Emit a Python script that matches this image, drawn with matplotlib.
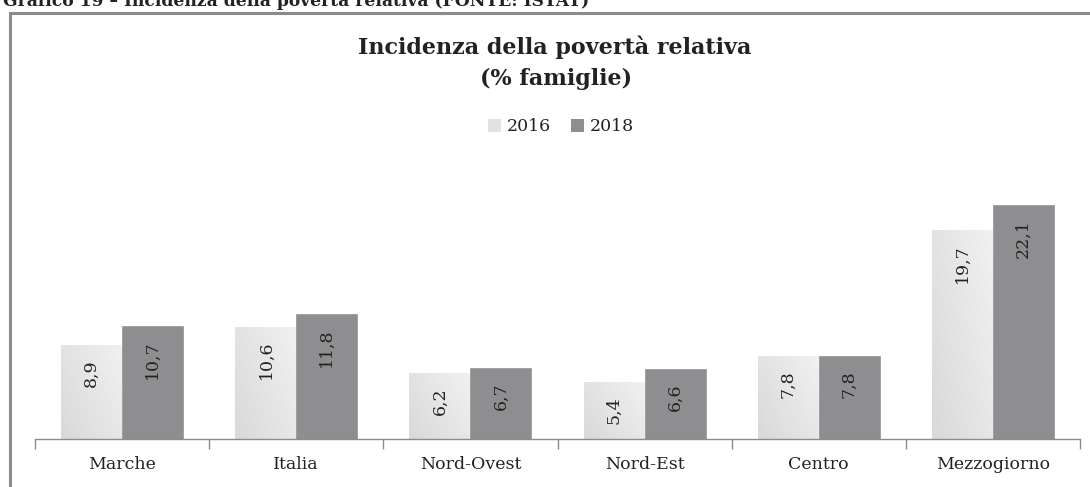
import matplotlib
matplotlib.use("Agg")
import matplotlib.pyplot as plt
from matplotlib.patches import Rectangle, Patch
from matplotlib.colors import LinearSegmentedColormap
import numpy as np

categories = ["Marche", "Italia", "Nord-Ovest", "Nord-Est", "Centro", "Mezzogiorno"]
series_names = ["2016", "2018"]
values_2016 = [8.9, 10.6, 6.2, 5.4, 7.8, 19.7]
values_2018 = [10.7, 11.8, 6.7, 6.6, 7.8, 22.1]

FONT = ["DejaVu Serif"]
c16 = "#e2e2e3"
c18 = "#8e8e91"
txt = "#222222"

W, H = 1090, 487
fig = plt.figure(figsize=(W / 100, H / 100), dpi=100)
fig.patch.set_facecolor("white")

# outer frame
fig.patches.append(Rectangle((10 / W, -0.1), 1.2, (H - 13) / H + 0.1, transform=fig.transFigure,
                             fill=False, edgecolor="#8a8a8a", linewidth=2.2))
# caption (cut at the top edge, as in the source)
fig.text(3 / W, 1 - 1 / H, "Grafico 19 – Incidenza della povertà relativa (FONTE: ISTAT)",
         fontsize=12.3, fontweight="bold", family=FONT, color=txt, va="center", ha="left")

ax = fig.add_axes([35 / W, 1 - 439 / H, 1045 / W, 265 / H])
x = np.arange(len(categories))
bw = 0.35
b1 = ax.bar(x - bw / 2, values_2016, bw, color=c16, edgecolor="#f2f2f2", linewidth=0.6,
            label=series_names[0], zorder=2)
b2 = ax.bar(x + bw / 2, values_2018, bw, color=c18, edgecolor="#9c9c9e", linewidth=0.6,
            label=series_names[1], zorder=2)

# soft gradient on the light bars
cmap = LinearSegmentedColormap.from_list("g", ["#d9d9db", "#f1f1f1"])
gy, gx = np.mgrid[0:1:50j, 0:1:50j]
grad = (gx * 0.6 + (1 - gy) * 0.4)
for r in b1:
    x0, w, h = r.get_x(), r.get_width(), r.get_height()
    im = ax.imshow(grad, cmap=cmap, extent=(x0, x0 + w, 0, h), origin="upper",
                   aspect="auto", zorder=2.5, vmin=0, vmax=1, interpolation="bilinear")
    im.set_clip_path(r)

for bars, vals in ((b1, values_2016), (b2, values_2018)):
    for r, v in zip(bars, vals):
        ax.text(r.get_x() + r.get_width() / 2, v - 1.35, f"{v:.1f}".replace(".", ","),
                rotation=90, ha="center", va="top", fontsize=12.5, family=FONT, color=txt, zorder=4)

ax.set_xlim(-0.5, len(categories) - 0.5)
ax.set_ylim(0, 25)
ax.set_yticks([])
for s in ("top", "right", "left"):
    ax.spines[s].set_visible(False)
ax.spines["bottom"].set_color("#8c8c8c")
ax.spines["bottom"].set_linewidth(1)
ax.set_xticks(np.arange(len(categories) + 1) - 0.5, minor=False)
ax.set_xticklabels([])
ax.tick_params(axis="x", length=7, color="#8c8c8c", width=1, direction="out")
ax.set_xticks(x, minor=True)
ax.set_xticklabels(categories, minor=True, fontsize=12.5, family=FONT, color=txt)
ax.tick_params(axis="x", which="minor", length=0, pad=12)

fig.text(555 / W, 1 - 54 / H, "Incidenza della povertà relativa", fontsize=16, fontweight="bold",
         family=FONT, color=txt, ha="center", va="baseline")
fig.text(556 / W, 1 - 85 / H, "(% famiglie)", fontsize=16, fontweight="bold",
         family=FONT, color=txt, ha="center", va="baseline")

handles = [Patch(facecolor=c16, edgecolor="none"), Patch(facecolor=c18, edgecolor="none")]
fig.legend(handles, series_names, loc="center", bbox_to_anchor=(561 / W, 1 - 127 / H), ncol=2,
           frameon=False, prop={"family": FONT, "size": 12.5}, handlelength=0.75, handleheight=0.75,
           handletextpad=0.3, columnspacing=1.2, labelcolor=txt)

fig.savefig("out.png", dpi=100)
